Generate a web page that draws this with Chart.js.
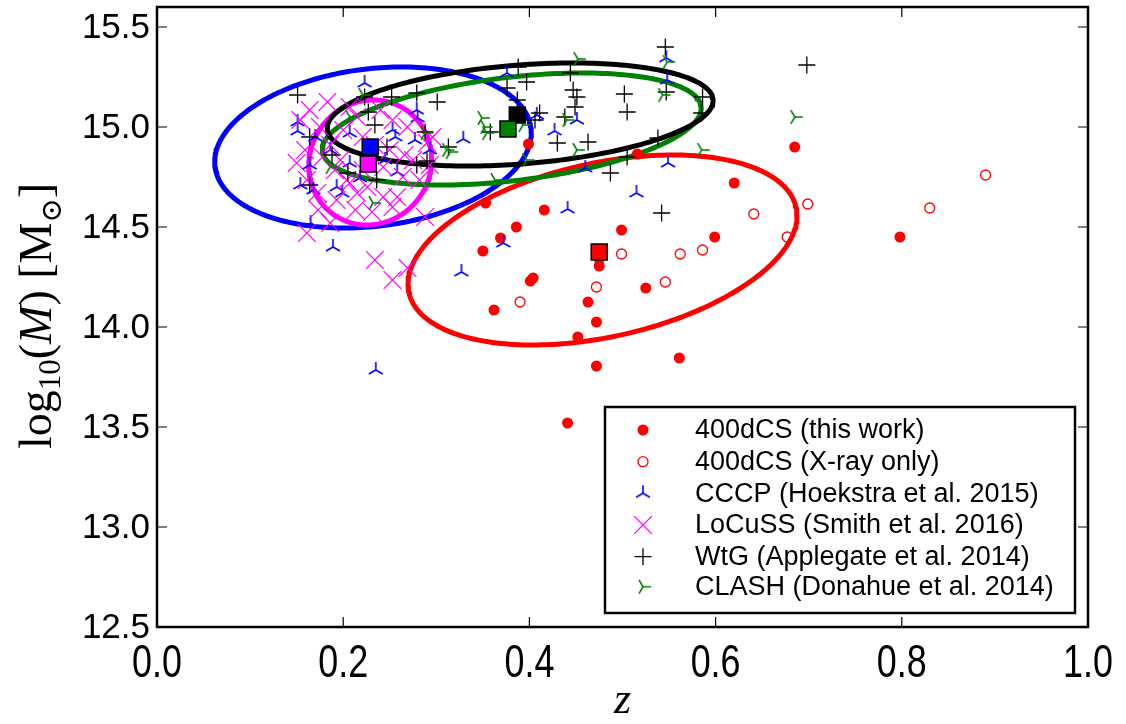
<!DOCTYPE html>
<html><head><meta charset="utf-8">
<script src="https://cdn.jsdelivr.net/npm/chart.js@4.4.1/dist/chart.umd.min.js"></script>
<style>html,body{margin:0;padding:0;background:#fff;}canvas{display:block;}</style>
</head><body>
<canvas id="c" width="1126" height="724"></canvas>
<script>
// ---------- data ----------
const xTicks = [0.0, 0.2, 0.4, 0.6, 0.8, 1.0];
const yTicks = [12.5, 13.0, 13.5, 14.0, 14.5, 15.0, 15.5];
const seriesNames = ['400dCS (this work)', '400dCS (X-ray only)', 'CCCP (Hoekstra et al. 2015)',
  'LoCuSS (Smith et al. 2016)', 'WtG (Applegate et al. 2014)', 'CLASH (Donahue et al. 2014)'];

const dcsZ = [0.399,0.516,0.620,0.685,0.353,0.416,0.386,0.369,0.350,0.499,0.599,0.798,0.475,0.475,0.401,0.404,0.525,0.362,0.463,0.472,0.452,0.472,0.441,0.561];
const dcsM = [14.915,14.865,14.72,14.90,14.62,14.585,14.50,14.445,14.38,14.485,14.45,14.45,14.34,14.305,14.23,14.245,14.195,14.085,14.125,14.025,13.95,13.805,13.52,13.845];

const xrayZ = [0.499,0.472,0.390,0.641,0.699,0.677,0.562,0.586,0.546,0.890,0.830];
const xrayM = [14.365,14.20,14.125,14.565,14.615,14.45,14.365,14.385,14.225,14.76,14.595];

const cccpZ = [0.223,0.151,0.151,0.170,0.207,0.253,0.256,0.279,0.280,0.164,0.207,0.258,0.168,0.199,0.193,0.165,0.189,0.235,0.327,0.372,0.329,0.376,0.408,0.427,0.451,0.460,0.441,0.515,0.549,0.547,0.548,0.186,0.229,0.245,0.218,0.154,0.277,0.293];
const cccpM = [15.22,15.025,14.98,14.95,14.97,14.985,14.95,15.085,15.045,14.81,14.82,14.775,14.685,14.67,14.70,14.52,14.40,13.785,14.275,14.42,14.94,15.27,15.06,14.98,15.035,14.795,14.59,14.67,14.82,15.345,15.235,14.885,14.885,14.835,14.745,14.71,14.935,14.885];

const locussZ = [0.154,0.150,0.164,0.183,0.207,0.240,0.186,0.178,0.191,0.204,0.215,0.226,0.243,0.253,0.258,0.264,0.275,0.290,0.296,0.288,0.161,0.186,0.159,0.161,0.172,0.193,0.207,0.221,0.243,0.250,0.253,0.215,0.200,0.221,0.269,0.234,0.253,0.269,0.175,0.197,0.234,0.282,0.266,0.213,0.231,0.173,0.293];
const locussM = [15.035,14.82,15.085,15.125,15.10,15.085,14.91,14.85,14.785,14.735,14.67,14.70,14.65,14.60,14.65,14.75,14.835,14.92,14.95,14.55,14.47,14.52,14.885,14.735,14.67,14.635,14.72,14.785,14.80,14.885,15.035,15.05,14.985,14.95,15.00,14.335,14.235,14.295,15.00,14.835,14.91,14.735,14.86,14.585,14.575,14.585,14.81];

const wtgZ = [0.151,0.164,0.188,0.164,0.205,0.227,0.234,0.247,0.236,0.252,0.279,0.301,0.290,0.279,0.313,0.223,0.288,0.388,0.397,0.376,0.387,0.411,0.406,0.358,0.438,0.444,0.447,0.451,0.449,0.430,0.463,0.502,0.505,0.546,0.547,0.586,0.585,0.538,0.505,0.487,0.542,0.698];
const wtgM = [15.16,14.95,14.86,14.71,14.77,15.075,15.01,14.90,14.735,15.15,15.17,15.125,14.83,14.81,14.90,15.15,14.975,15.30,15.225,15.195,15.135,15.07,15.035,14.975,15.05,15.27,15.185,15.15,15.10,14.92,14.925,15.165,15.075,15.40,15.175,15.15,15.07,14.945,14.85,14.77,14.57,15.31];

const clashZ = [0.452,0.548,0.543,0.349,0.352,0.354,0.393,0.397,0.440,0.451,0.315,0.585,0.363,0.685,0.207,0.221,0.186,0.232,0.288,0.311];
const clashM = [15.34,15.325,15.16,15.045,15.00,14.97,15.01,14.835,15.035,14.885,14.875,14.885,14.735,15.05,15.05,15.16,14.80,14.62,14.97,14.885];

// sample means (red, blue, magenta, black, green)
const meanZ = [0.475, 0.229, 0.227, 0.387, 0.377];
const meanM = [14.375, 14.90, 14.815, 15.06, 14.99];

// confidence ellipses: centre, half-extent in z, half-extent in M, correlation
const ellNames = ['red', 'blue', 'magenta', 'green', 'black'];
const ellCZ  = [0.4785, 0.232, 0.229, 0.381, 0.390];
const ellCM  = [14.385, 14.8975, 14.8225, 14.99, 15.0625];
const ellSZ  = [0.2089, 0.170, 0.066, 0.2035, 0.2073];
const ellSM  = [0.475, 0.4025, 0.3125, 0.28, 0.2575];
const ellRho = [0.36, 0.18, 0.05, 0.37, 0.27];

// ---------- styling ----------
const COL = {red:'#ff0000', blue:'#0000ff', magenta:'#ff00ff', black:'#000000', green:'#008000'};
const SANS = "'Liberation Sans', Arial, sans-serif";
const SERIF = "'Liberation Serif', 'DejaVu Serif', serif";

function pts(zs, ms){ return zs.map((z,i)=>({x:z, y:ms[i]})); }
function ellipse(i){
  const out=[]; const n=240;
  for(let k=0;k<=n;k++){
    const t = 2*Math.PI*k/n;
    out.push({x: ellCZ[i] + ellSZ[i]*Math.cos(t),
              y: ellCM[i] + ellSM[i]*(ellRho[i]*Math.cos(t) + Math.sqrt(1-ellRho[i]*ellRho[i])*Math.sin(t))});
  }
  return out;
}
function triCanvas(color, anglesDeg, arm, lw){
  const s = Math.ceil(2*(arm+lw))+2;
  const c = document.createElement('canvas'); c.width=s; c.height=s;
  const g = c.getContext('2d'); g.strokeStyle=color; g.lineWidth=lw;
  g.beginPath();
  for(const a of anglesDeg){ const r=a*Math.PI/180; g.moveTo(s/2,s/2); g.lineTo(s/2+arm*Math.cos(r), s/2-arm*Math.sin(r)); }
  g.stroke(); return c;
}
const triUp = triCanvas(COL.blue, [90,210,330], 8, 1.6);
const triRight = triCanvas(COL.green, [0,120,240], 8, 1.6);

const datasets = [];
// ellipses (bottom)
const ellOrder = {red:11, blue:10, magenta:9, green:8, black:7};
ellNames.forEach((nm,i)=>{
  datasets.push({type:'line', label:'ell-'+nm, data:ellipse(i), showLine:true, borderColor:COL[nm],
    borderWidth:5, pointRadius:0, fill:false, tension:0, order:ellOrder[nm], borderJoinStyle:'round'});
});
datasets.push({label:seriesNames[0], data:pts(dcsZ,dcsM), pointStyle:'circle', pointRadius:5.5,
  backgroundColor:COL.red, borderColor:COL.red, borderWidth:0, order:6});
datasets.push({label:seriesNames[1], data:pts(xrayZ,xrayM), pointStyle:'circle', pointRadius:5,
  backgroundColor:'rgba(0,0,0,0)', borderColor:COL.red, borderWidth:1.3, order:5});
datasets.push({label:seriesNames[2], data:pts(cccpZ,cccpM), pointStyle:triUp, order:4});
datasets.push({label:seriesNames[3], data:pts(locussZ,locussM), pointStyle:'crossRot', pointRadius:12.5,
  borderColor:COL.magenta, borderWidth:1.3, order:3});
datasets.push({label:seriesNames[4], data:pts(wtgZ,wtgM), pointStyle:'cross', pointRadius:8.5,
  borderColor:COL.black, borderWidth:1.3, order:2});
datasets.push({label:seriesNames[5], data:pts(clashZ,clashM), pointStyle:triRight, order:1});
datasets.push({label:'means', data:pts(meanZ,meanM), pointStyle:'rect', pointRadius:11.3,
  backgroundColor:[COL.red,COL.blue,COL.magenta,COL.black,COL.green], borderColor:'#000', borderWidth:1.5, order:0});

// ---------- decorations plugin ----------
const deco = {
  id:'deco',
  afterDraw(chart){
    const ctx = chart.ctx, a = chart.chartArea, xs = chart.scales.x, ys = chart.scales.y;
    ctx.save();
    // ticks (inward, all sides)
    ctx.strokeStyle='#000'; ctx.lineWidth=1.2; const TL=10;
    xs.ticks.forEach(t=>{ const x=xs.getPixelForValue(t.value);
      ctx.beginPath(); ctx.moveTo(x,a.bottom); ctx.lineTo(x,a.bottom-TL); ctx.moveTo(x,a.top); ctx.lineTo(x,a.top+TL); ctx.stroke(); });
    ys.ticks.forEach(t=>{ const y=ys.getPixelForValue(t.value);
      ctx.beginPath(); ctx.moveTo(a.left,y); ctx.lineTo(a.left+TL,y); ctx.moveTo(a.right,y); ctx.lineTo(a.right-TL,y); ctx.stroke(); });
    // frame
    ctx.lineWidth=2.5; ctx.strokeRect(a.left, a.top, a.right-a.left, a.bottom-a.top);
    // tick labels
    ctx.fillStyle='#000';
    ctx.font = `35px ${SANS}`; ctx.textAlign='right'; ctx.textBaseline='middle';
    ys.ticks.forEach(t=>{ ctx.fillText(t.value.toFixed(1), a.left-7, ys.getPixelForValue(t.value)+1); });
    ctx.font = `46px ${SANS}`; ctx.textAlign='center'; ctx.textBaseline='alphabetic';
    xs.ticks.forEach(t=>{ const x=xs.getPixelForValue(t.value);
      ctx.save(); ctx.translate(x, 677); ctx.scale(0.78,1); ctx.fillText(t.value.toFixed(1),0,0); ctx.restore(); });
    // x title
    ctx.font = `italic 44px ${SERIF}`; ctx.textAlign='center'; ctx.fillText('z', (a.left+a.right)/2, 713);
    // y title
    const F=46;
    const parts=[
      {t:'log', f:`${F}px ${SERIF}`, dy:0},
      {t:'10', f:`${Math.round(F*0.68)}px ${SERIF}`, dy:F*0.2},
      {t:'(', f:`${F}px ${SERIF}`, dy:0},
      {t:'M', f:`italic ${F}px ${SERIF}`, dy:0},
      {t:') [M', f:`${F}px ${SERIF}`, dy:0},
      {t:'\u2299', f:`${Math.round(F*0.62)}px 'DejaVu Serif', ${SERIF}`, dy:F*0.22},
      {t:']', f:`${F}px ${SERIF}`, dy:0}
    ];
    let tot=0; parts.forEach(p=>{ ctx.font=p.f; p.w=ctx.measureText(p.t).width; tot+=p.w; });
    ctx.save(); ctx.translate(51, 316); ctx.rotate(-Math.PI/2); ctx.textAlign='left'; ctx.textBaseline='alphabetic';
    let cx=-tot/2; parts.forEach(p=>{ ctx.font=p.f; ctx.fillText(p.t, cx, p.dy); cx+=p.w; });
    ctx.restore();
    // legend
    const L={x:605,y:407,w:470,h:206};
    ctx.fillStyle='#fff'; ctx.fillRect(L.x,L.y,L.w,L.h);
    ctx.lineWidth=2.5; ctx.strokeStyle='#000'; ctx.strokeRect(L.x,L.y,L.w,L.h);
    const rows=[430,461.7,493.3,525,556.7,586.7], mx=643, tx=695;
    ctx.font=`27px ${SANS}`; ctx.textAlign='left'; ctx.textBaseline='middle'; ctx.fillStyle='#000';
    seriesNames.forEach((nm,i)=>{ ctx.fillStyle='#000'; ctx.fillText(nm, tx, rows[i]+1); });
    // legend markers
    let y=rows[0]; ctx.fillStyle=COL.red; ctx.beginPath(); ctx.arc(mx,y,5.5,0,2*Math.PI); ctx.fill();
    y=rows[1]; ctx.strokeStyle=COL.red; ctx.lineWidth=1.3; ctx.beginPath(); ctx.arc(mx,y,5,0,2*Math.PI); ctx.stroke();
    y=rows[2]; ctx.drawImage(triUp, mx-triUp.width/2, y-triUp.height/2);
    y=rows[3]; ctx.strokeStyle=COL.magenta; const d=12.5*Math.SQRT1_2;
    ctx.beginPath(); ctx.moveTo(mx-d,y-d); ctx.lineTo(mx+d,y+d); ctx.moveTo(mx+d,y-d); ctx.lineTo(mx-d,y+d); ctx.stroke();
    y=rows[4]; ctx.strokeStyle='#000';
    ctx.beginPath(); ctx.moveTo(mx-8.5,y); ctx.lineTo(mx+8.5,y); ctx.moveTo(mx,y-8.5); ctx.lineTo(mx,y+8.5); ctx.stroke();
    y=rows[5]; ctx.drawImage(triRight, mx-triRight.width/2, y-triRight.height/2);
    ctx.restore();
  }
};

new Chart(document.getElementById('c'), {
  type:'scatter',
  data:{datasets},
  options:{
    responsive:false, animation:false, devicePixelRatio:1,
    layout:{autoPadding:false, padding:{left:0, top:7, right:38, bottom:0}},
    plugins:{legend:{display:false}, tooltip:{enabled:false}},
    elements:{point:{hoverRadius:0}},
    scales:{
      x:{type:'linear', min:0, max:1, afterBuildTicks:s=>{ s.ticks = xTicks.map(v=>({value:v})); },
         ticks:{display:false}, grid:{display:false}, border:{display:false},
         afterFit:s=>{ s.height = 97; }},
      y:{type:'linear', min:12.5, max:15.6, afterBuildTicks:s=>{ s.ticks = yTicks.map(v=>({value:v})); },
         ticks:{display:false}, grid:{display:false}, border:{display:false},
         afterFit:s=>{ s.width = 157; }}
    }
  },
  plugins:[deco]
});
</script>
</body></html>
